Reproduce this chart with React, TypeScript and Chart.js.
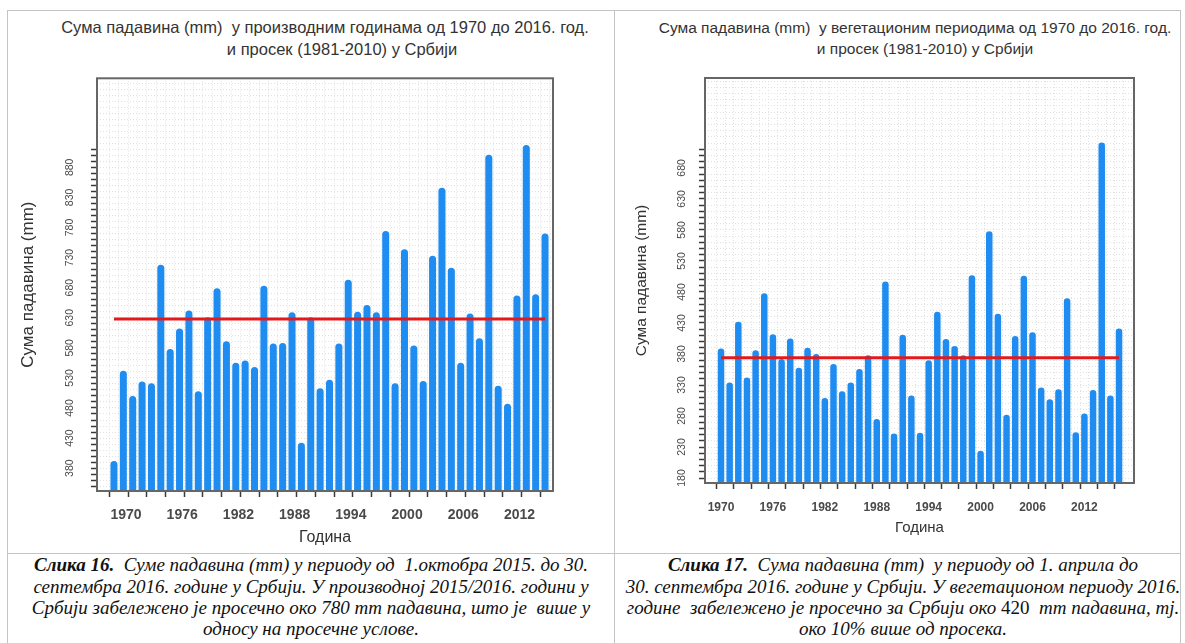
import React, { useEffect, useRef } from "react";
import { Chart, registerables } from "chart.js";

Chart.register(...registerables);

// ---------- data ----------
const years = [
  1970, 1971, 1972, 1973, 1974, 1975, 1976, 1977, 1978, 1979,
  1980, 1981, 1982, 1983, 1984, 1985, 1986, 1987, 1988, 1989,
  1990, 1991, 1992, 1993, 1994, 1995, 1996, 1997, 1998, 1999,
  2000, 2001, 2002, 2003, 2004, 2005, 2006, 2007, 2008, 2009,
  2010, 2011, 2012, 2013, 2014, 2015, 2016,
];

const productionYearSums = [
  392, 542, 500, 524, 521, 718, 578, 612, 642, 508,
  631, 679, 591, 555, 559, 548, 683, 587, 588, 639,
  422, 631, 513, 527, 587, 693, 640, 651, 639, 774,
  521, 744, 584, 525, 733, 846, 713, 555, 637, 596,
  901, 517, 487, 667, 917, 669, 770,
];

const vegetationSums = [
  389, 334, 432, 342, 386, 478, 412, 372, 405, 358,
  390, 380, 309, 364, 320, 334, 356, 378, 275, 497,
  252, 411, 313, 253, 370, 448, 404, 393, 378, 507,
  224, 578, 445, 282, 409, 506, 415, 326, 307, 323,
  470, 254, 284, 322, 721, 313, 421,
];

const productionAverage = 628;
const vegetationAverage = 374;

const productionTickLabels = [380, 430, 480, 530, 580, 630, 680, 730, 780, 830, 880];
const vegetationTickLabels = [180, 230, 280, 330, 380, 430, 480, 530, 580, 630, 680];
const yearTickLabels = [1970, 1976, 1982, 1988, 1994, 2000, 2006, 2012];

const SANS = '"Liberation Sans", Arial, sans-serif';
const SERIF = '"Liberation Serif", "Times New Roman", serif';

const BAR_BLUE = "#1e8cf0";
const AVG_RED = "#e3191c";
const GRID = "#e1e1e1";

// ---------- chart helpers ----------
const framePlugin = {
  id: "frameBox",
  afterDatasetsDraw(chart: any) {
    const { ctx, chartArea: a } = chart;
    ctx.save();
    ctx.strokeStyle = "#666666";
    ctx.lineWidth = 2;
    ctx.strokeRect(a.left, a.top, a.right - a.left, a.bottom - a.top);
    ctx.restore();
  },
};

type Spec = {
  width: number;
  height: number;
  padTop: number;
  padRight: number;
  yWidth: number;
  xHeight: number;
  yMin: number;
  yMax: number;
  minorFrom: number;
  minorStep: number;
  tickTop: number;
  xMin: number;
  xMax: number;
  values: number[];
  average: number;
  tickLabels: number[];
  yTickSize: number;
  yTickPad: number;
  yTitleSize: number;
  yTitlePad: number;
  xTickSize: number;
  xTickPad: number;
  xLabelOffset: number;
  xTitleSize: number;
  xTitlePad: number;
};

function makeConfig(s: Spec): any {
  const minorTicks: number[] = [];
  for (let v = s.minorFrom; v <= s.yMax; v += s.minorStep) minorTicks.push(v);

  return {
    type: "bar",
    data: {
      datasets: [
        {
          type: "line",
          data: [
            { x: years[0], y: s.average },
            { x: years[years.length - 1], y: s.average },
          ],
          borderColor: AVG_RED,
          borderWidth: 3,
          pointRadius: 0,
          order: 1,
        },
        {
          type: "bar",
          data: years.map((yr, i) => ({ x: yr, y: s.values[i] })),
          backgroundColor: BAR_BLUE,
          borderRadius: 4,
          borderSkipped: "start",
          barPercentage: 0.75,
          categoryPercentage: 1,
          order: 2,
        },
      ],
    },
    options: {
      responsive: false,
      animation: false,
      events: [],
      layout: { padding: { top: s.padTop, right: s.padRight, left: 0, bottom: 0 } },
      plugins: {
        legend: { display: false },
        tooltip: { enabled: false },
        title: { display: false },
      },
      scales: {
        x: {
          type: "linear",
          min: s.xMin,
          max: s.xMax,
          offset: false,
          afterBuildTicks: (sc: any) => {
            sc.ticks = years.map((v) => ({ value: v }));
          },
          afterFit: (sc: any) => {
            sc.height = s.xHeight;
          },
          ticks: {
            autoSkip: false,
            minRotation: 0,
            maxRotation: 0,
            padding: s.xTickPad,
            labelOffset: s.xLabelOffset,
            color: "#4a4a4a",
            font: { family: SANS, size: s.xTickSize, weight: "bold" },
            callback: (v: any) => (yearTickLabels.includes(v) ? String(v) : ""),
          },
          grid: {
            color: GRID,
            lineWidth: 1,
            tickLength: 6,
            tickWidth: 1.5,
            tickColor: (ctx: any) =>
              ctx.tick && (ctx.tick.value - years[0]) % 2 === 0 ? "#3a3a3a" : "rgba(0,0,0,0)",
          },
          border: { display: false, dash: [1, 2] },
          title: {
            display: true,
            text: "Година",
            color: "#333333",
            font: { family: SANS, size: s.xTitleSize },
            padding: { top: 0, bottom: s.xTitlePad },
          },
        },
        y: {
          type: "linear",
          min: s.yMin,
          max: s.yMax,
          afterBuildTicks: (sc: any) => {
            sc.ticks = minorTicks.map((v) => ({ value: v }));
          },
          afterFit: (sc: any) => {
            sc.width = s.yWidth;
          },
          ticks: {
            autoSkip: false,
            minRotation: 90,
            maxRotation: 90,
            crossAlign: "center",
            padding: s.yTickPad,
            color: "#4a4a4a",
            font: { family: SANS, size: s.yTickSize },
            callback: (v: any) => (s.tickLabels.includes(v) ? String(v) : ""),
          },
          grid: {
            color: GRID,
            lineWidth: 1,
            tickLength: 6,
            tickWidth: 1.5,
            tickColor: (ctx: any) =>
              ctx.tick && ctx.tick.value <= s.tickTop ? "#3a3a3a" : "rgba(0,0,0,0)",
          },
          border: { display: false, dash: [1, 2] },
          title: {
            display: true,
            text: "Сума падавина (mm)",
            color: "#333333",
            font: { family: SANS, size: s.yTitleSize },
            padding: { top: s.yTitlePad, bottom: 0 },
          },
        },
      },
    },
    plugins: [framePlugin],
  };
}

function ChartCanvas({ spec, left, top }: { spec: Spec; left: number; top: number }) {
  const ref = useRef<HTMLCanvasElement>(null);
  useEffect(() => {
    if (!ref.current) return;
    const chart = new Chart(ref.current, makeConfig(spec));
    return () => chart.destroy();
  }, []);
  return (
    <canvas
      ref={ref}
      width={spec.width}
      height={spec.height}
      style={{ position: "absolute", left, top, width: spec.width, height: spec.height }}
    />
  );
}

const leftSpec: Spec = {
  width: 600,
  height: 490,
  padTop: 15,
  padRight: 47,
  yWidth: 97,
  xHeight: 59,
  yMin: 342,
  yMax: 1028,
  minorFrom: 350,
  minorStep: 10,
  tickTop: 910,
  xMin: 1968.19,
  xMax: 2016.85,
  values: productionYearSums,
  average: productionAverage,
  tickLabels: productionTickLabels,
  yTickSize: 10.5,
  yTickPad: 12,
  yTitleSize: 17,
  yTitlePad: 18,
  xTickSize: 14,
  xTickPad: 10,
  xLabelOffset: 12,
  xTitleSize: 16,
  xTitlePad: 3,
};

const rightSpec: Spec = {
  width: 565,
  height: 490,
  padTop: 18,
  padRight: 46,
  yWidth: 90,
  xHeight: 67,
  yMin: 172,
  yMax: 825,
  minorFrom: 180,
  minorStep: 10,
  tickTop: 710,
  xMin: 1968.15,
  xMax: 2017.73,
  values: vegetationSums,
  average: vegetationAverage,
  tickLabels: vegetationTickLabels,
  yTickSize: 10.5,
  yTickPad: 8,
  yTitleSize: 15.5,
  yTitlePad: 17,
  xTickSize: 12,
  xTickPad: 11,
  xLabelOffset: 0,
  xTitleSize: 15,
  xTitlePad: 13,
};

function Centered({
  cx,
  cy,
  size,
  children,
  family = SANS,
  italic = false,
  color = "#333333",
}: any) {
  return (
    <div
      style={{
        position: "absolute",
        left: cx,
        top: cy,
        transform: "translate(-50%, -50%)",
        whiteSpace: "pre",
        fontFamily: family,
        fontSize: size,
        fontStyle: italic ? "italic" : "normal",
        color,
        lineHeight: 1.2,
      }}
    >
      {children}
    </div>
  );
}

function Line({ style }: { style: React.CSSProperties }) {
  return <div style={{ position: "absolute", background: "#c4c4c4", ...style }} />;
}

const CAP = 19;

export default function App() {
  return (
    <div
      style={{
        position: "fixed",
        left: 0,
        top: 0,
        width: 1185,
        height: 643,
        background: "#ffffff",
        overflow: "hidden",
      }}
    >
      {/* table frame */}
      <Line style={{ left: 7, top: 10, width: 1174, height: 1 }} />
      <Line style={{ left: 7, top: 10, width: 1, height: 633 }} />
      <Line style={{ left: 614, top: 10, width: 1, height: 633 }} />
      <Line style={{ left: 1180, top: 10, width: 1, height: 633 }} />
      <Line style={{ left: 7, top: 553, width: 1174, height: 1 }} />

      {/* chart titles */}
      <Centered cx={325} cy={28} size={16.5}>
        Сума падавина (mm)  у производним годинама од 1970 до 2016. год.
      </Centered>
      <Centered cx={342} cy={50} size={16.5}>
        и просек (1981-2010) у Србији
      </Centered>
      <Centered cx={915} cy={28} size={15.5}>
        Сума падавина (mm)  у вегетационим периодима од 1970 до 2016. год.
      </Centered>
      <Centered cx={925} cy={49} size={15.5}>
        и просек (1981-2010) у Србији
      </Centered>

      <ChartCanvas spec={leftSpec} left={0} top={60} />
      <ChartCanvas spec={rightSpec} left={615} top={60} />

      {/* captions */}
      <Centered cx={311} cy={565} size={CAP} family={SERIF} italic color="#111">
        <b>Слика 16.</b>  Суме падавина (mm) у периоду од  1.октобра 2015. до 30.
      </Centered>
      <Centered cx={311} cy={587} size={CAP} family={SERIF} italic color="#111">
        септембра 2016. године у Србији. У производној 2015/2016. години у
      </Centered>
      <Centered cx={311} cy={608} size={CAP} family={SERIF} italic color="#111">
        Србији забележено је просечно око 780 mm падавина, што је  више у
      </Centered>
      <Centered cx={311} cy={629} size={CAP} family={SERIF} italic color="#111">
        односу на просечне услове.
      </Centered>

      <Centered cx={903} cy={565} size={CAP} family={SERIF} italic color="#111">
        <b>Слика 17.</b>  Сума падавина (mm)  у периоду од 1. априла до
      </Centered>
      <Centered cx={903} cy={587} size={CAP} family={SERIF} italic color="#111">
        30. септембра 2016. године у Србији. У вегетационом периоду 2016.
      </Centered>
      <Centered cx={903} cy={608} size={CAP} family={SERIF} italic color="#111">
        године  забележено је просечно за Србији око <span style={{ fontStyle: "normal" }}>420</span>  mm падавина, тј.
      </Centered>
      <Centered cx={903} cy={629} size={CAP} family={SERIF} italic color="#111">
        око 10% више од просека.
      </Centered>
    </div>
  );
}
